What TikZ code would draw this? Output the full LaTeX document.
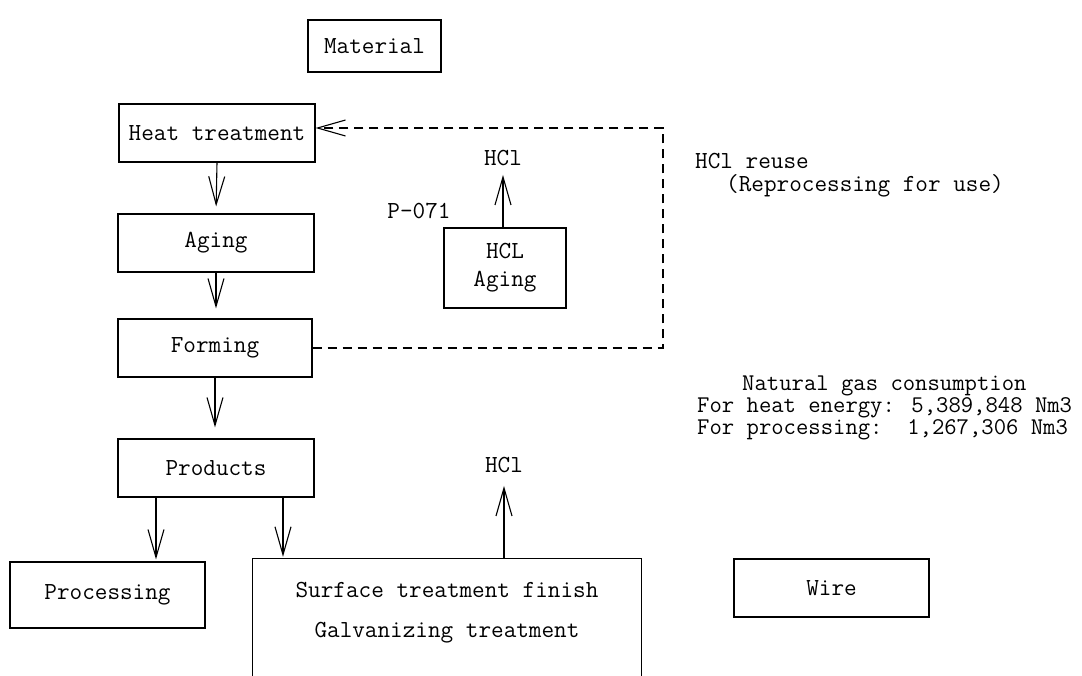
\documentclass[tikz,border=0pt]{standalone}
\usepackage{fontspec}
\usetikzlibrary{arrows.meta}
\begin{document}
\begin{tikzpicture}[x=1pt,y=-1pt,
  every node/.style={font=\ttfamily\fontsize{24.5}{30}\selectfont},
  box/.style={draw,line width=1.1pt,inner sep=0pt},
  lbl/.style={inner sep=1pt},
  arr/.style={line width=1.1pt,-{Straight Barb[length=28pt,width=16pt,line width=1.1pt]}},
  dsh/.style={arr,dash pattern=on 9pt off 6pt}]
\useasboundingbox[fill=white] (0,0) rectangle (1082,676);

\node[box,minimum width=133pt,minimum height=52pt] (mat) at (374.5,46) {Material};
\node[box,minimum width=196pt,minimum height=58pt] (heat) at (217,133) {Heat treatment};
\node[box,minimum width=196pt,minimum height=58pt] (aging) at (216,243) {Aging};
\node[box,minimum width=194pt,minimum height=58pt] (forming) at (215,348) {Forming};
\node[box,minimum width=196pt,minimum height=58pt] (products) at (216,468) {Products};
\node[box,minimum width=195pt,minimum height=66pt] (processing) at (107.5,595) {Processing};
\node[box,minimum width=122pt,minimum height=80pt,align=center,font=\ttfamily\fontsize{24.5}{28}\selectfont] (hclaging) at (505,268) {HCL\\Aging};
\node[box,minimum width=195pt,minimum height=58pt] (wire) at (831.5,588) {Wire};

% open surface box
\node[minimum width=388pt,minimum height=122pt,inner sep=0pt] (surface) at (447,620) {};
\node[align=center,inner sep=0pt,font=\ttfamily\fontsize{24.5}{40}\selectfont] (surftext) at (447,613) {Surface treatment finish\\Galvanizing treatment};
\draw[line width=1.1pt] (surface.south west) -- (surface.north west) -- (surface.north east) -- (surface.south east);

% labels
\node[lbl] (hcl1) at (503,158) {HCl};
\node[lbl] (hcl2) at (504,465) {HCl};
\node[lbl] (p071) at (419,211) {P-071};
\node[lbl,anchor=north west,align=left,font=\ttfamily\fontsize{24.5}{23.5}\selectfont] (reuse) at (694,152) {HCl reuse\\\hspace*{31pt}(Reprocessing for use)};
\node[lbl,anchor=north west,align=left,font=\ttfamily\fontsize{24}{22}\selectfont] (gas) at (696,375) {\hspace*{45pt}Natural gas consumption\\For heat energy: 5,389,848 Nm3\\For processing:\ \ 1,267,306 Nm3};

% arrows
\draw[arr,shorten >=7pt] (heat.south) -- (aging.north);
\draw[arr,shorten >=10pt] (aging.south) -- (aging.south |- forming.north);
\draw[arr,shorten >=11pt] (forming.south) -- (forming.south |- products.north);
\draw[arr,shorten >=2pt] ([xshift=-60pt]products.south) -- ([xshift=-60pt]products.south |- processing.north);
\draw[arr,shorten >=2pt] ([xshift=67pt]products.south) -- ([xshift=67pt]products.south |- surface.north);
\draw[arr,shorten >=8pt] (hclaging.north -| hcl1.south) -- (hcl1.south);
\draw[arr,shorten >=12pt] (surface.north -| hcl2.south) -- (hcl2.south);

% dashed feedback
\coordinate (c1) at (663,348);
\coordinate (c2) at (663,128);
\draw[dsh] (forming.east) -- (c1) -- (c2) -- (c2 -| heat.east);
\end{tikzpicture}
\end{document}
